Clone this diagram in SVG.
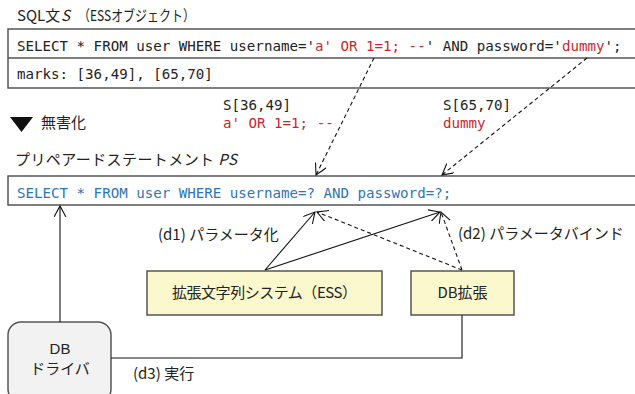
<svg xmlns="http://www.w3.org/2000/svg" width="635" height="394" viewBox="0 0 635 394">
  <style>
    .jp { font-family: "Noto Sans CJK JP", "Noto Sans", sans-serif; font-size: 15px; fill: #222; }
    .lat { font-family: "Liberation Sans", "Noto Sans", sans-serif; font-size: 15px; fill: #222; }
    .mono { font-family: "DejaVu Sans Mono", "Liberation Mono", monospace; font-size: 14.15px; fill: #222; }
    .red { fill: #c8282e; }
    .blue { fill: #2f74b5; }
    .frame { fill: #fff; stroke: #555; stroke-width: 1.5; }
    .comp { fill: #faf8cc; stroke: #555; stroke-width: 1.5; }
    .driver { fill: #f2f2f2; stroke: #555; stroke-width: 1.5; }
    .link { fill: none; stroke: #111; stroke-width: 1.1; }
    .dash { stroke-dasharray: 4 3; }
  </style>
  <defs>
    <marker id="open" markerUnits="userSpaceOnUse" markerWidth="14" markerHeight="14" refX="11" refY="6" orient="auto">
      <path d="M0,0 L11,6 L0,12" fill="none" stroke="#111" stroke-width="1.1"/>
    </marker>
  </defs>

  <!-- SQL statement object -->
  <g id="sql-object">
    <text class="jp" x="17" y="21" font-size="14">SQL文</text>
    <text class="jp" x="61" y="21" font-size="14" font-style="italic">S</text>
    <text class="jp" x="78" y="21" font-size="14" textLength="117" lengthAdjust="spacingAndGlyphs">（ESSオブジェクト）</text>
    <rect class="frame" x="8" y="29" width="640" height="59"/>
    <line x1="8" y1="58" x2="648" y2="58" stroke="#555" stroke-width="1.5"/>
    <text class="mono" x="17" y="51">SELECT * FROM user WHERE username='<tspan class="red">a' OR 1=1; --</tspan>' AND password='<tspan class="red">dummy</tspan>';</text>
    <text class="mono" x="17" y="79">marks: [36,49], [65,70]</text>
  </g>

  <!-- sanitize step -->
  <g id="sanitize">
    <polygon points="10,117 33,117 21.5,132" fill="#111"/>
    <text class="jp" x="41" y="128">無害化</text>
  </g>

  <!-- extracted substrings -->
  <g id="substr-1">
    <text class="mono" x="223" y="110">S[36,49]</text>
    <text class="mono red" x="223" y="128">a' OR 1=1; --</text>
  </g>
  <g id="substr-2">
    <text class="mono" x="443" y="110">S[65,70]</text>
    <text class="mono red" x="443" y="128">dummy</text>
  </g>

  <!-- prepared statement -->
  <g id="prepared">
    <text class="jp" x="15" y="165" textLength="222">プリペアードステートメント <tspan font-style="italic">PS</tspan></text>
    <rect class="frame" x="8" y="176" width="640" height="29"/>
    <text class="mono blue" x="17" y="198">SELECT * FROM user WHERE username=? AND password=?;</text>
  </g>

  <!-- components -->
  <g id="ess">
    <rect class="comp" x="147" y="271" width="235" height="44"/>
    <text class="jp" x="264.5" y="298" text-anchor="middle" textLength="185">拡張文字列システム（ESS）</text>
  </g>
  <g id="db-ext">
    <rect class="comp" x="411" y="271" width="103" height="44"/>
    <text class="jp" x="462.5" y="298" text-anchor="middle">DB拡張</text>
  </g>
  <g id="db-driver">
    <rect class="driver" x="8" y="322" width="103" height="80" rx="13" ry="13"/>
    <text class="lat" x="60" y="354" text-anchor="middle" font-size="14.5">DB</text>
    <text class="jp" x="60" y="374" text-anchor="middle" font-size="14.5">ドライバ</text>
  </g>

  <!-- connectors -->
  <g id="connectors">
    <line class="link dash" x1="374" y1="58" x2="316" y2="175" marker-end="url(#open)"/>
    <line class="link dash" x1="587" y1="58" x2="442" y2="175" marker-end="url(#open)"/>
    <line class="link" x1="265" y1="270" x2="315" y2="212" marker-end="url(#open)"/>
    <line class="link" x1="265" y1="270" x2="440" y2="212" marker-end="url(#open)"/>
    <line class="link dash" x1="462" y1="270" x2="317" y2="212" marker-end="url(#open)"/>
    <line class="link dash" x1="462" y1="270" x2="441" y2="212" marker-end="url(#open)"/>
    <line class="link" x1="60" y1="322" x2="60" y2="206" marker-end="url(#open)"/>
    <polyline class="link" points="462,315 462,358 111,358"/>
  </g>

  <!-- connector labels -->
  <g id="labels">
    <text class="jp" x="158" y="240">(d1) パラメータ化</text>
    <text class="jp" x="458" y="239">(d2) パラメータバインド</text>
    <text class="jp" x="133" y="379">(d3) 実行</text>
  </g>
</svg>
